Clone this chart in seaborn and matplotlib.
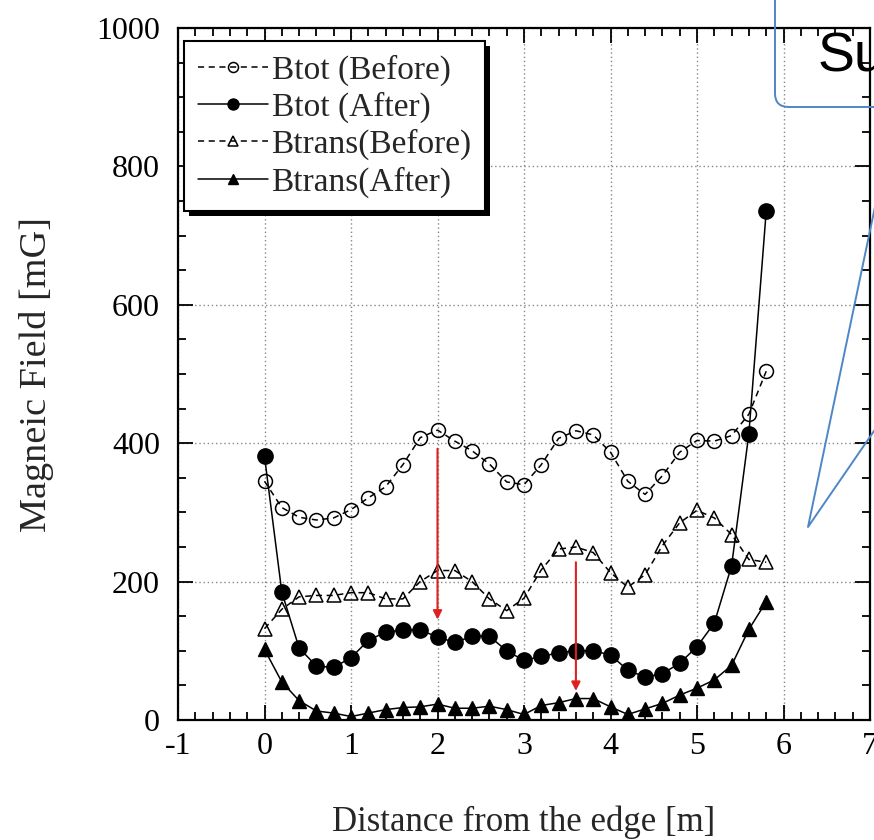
import numpy as np
import pandas as pd
import matplotlib
matplotlib.use("Agg")
import matplotlib.pyplot as plt
import seaborn as sns
from matplotlib.ticker import MultipleLocator
from matplotlib.patches import FancyBboxPatch, Rectangle
from matplotlib.lines import Line2D

# ---------------- data ----------------
distance = [0.0, 0.2, 0.4, 0.6, 0.8, 1.0, 1.2, 1.4, 1.6, 1.8,
            2.0, 2.2, 2.4, 2.6, 2.8, 3.0, 3.2, 3.4, 3.6, 3.8,
            4.0, 4.2, 4.4, 4.6, 4.8, 5.0, 5.2, 5.4, 5.6, 5.8]

btot_before = [345, 307, 293, 289, 292, 304, 321, 337, 369, 408,
               419, 403, 389, 370, 344, 340, 369, 407, 418, 412,
               387, 345, 326, 353, 387, 404, 403, 411, 442, 504]

btot_after = [381, 185, 104, 78, 76, 90, 115, 127, 130, 130,
              120, 112, 121, 121, 100, 86, 92, 97, 100, 100,
              94, 72, 62, 67, 82, 106, 140, 223, 414, 735]

btrans_before = [132, 160, 178, 180, 180, 184, 184, 175, 175, 200,
                 216, 216, 200, 175, 158, 176, 217, 247, 250, 242,
                 213, 192, 210, 252, 285, 303, 292, 268, 232, 228]

btrans_after = [102, 55, 28, 13, 10, 5, 10, 15, 18, 19,
                23, 17, 17, 20, 15, 8, 21, 25, 31, 31,
                19, 8, 16, 24, 36, 46, 58, 79, 131, 171]

series_labels = ["Btot (Before)", "Btot (After)", "Btrans(Before)", "Btrans(After)"]

x_ticks = [-1, 0, 1, 2, 3, 4, 5, 6, 7]
y_ticks = [0, 200, 400, 600, 800, 1000]

# red annotation arrows (x, y_start, y_end)
arrow_x = [2.0, 3.6]
arrow_start = [392, 228]
arrow_end = [145, 42]

x_label = "Distance from the edge [m]"
y_label = "Magneic Field [mG]"
callout_text = "Su"

# ---------------- style ----------------
sns.set_style("ticks")
plt.rcParams["font.family"] = ["Liberation Serif", "DejaVu Serif"]
plt.rcParams["axes.unicode_minus"] = False

W, H = 874, 840
fig = plt.figure(figsize=(W / 100, H / 100), dpi=100)
ax = fig.add_axes([178 / W, 1 - 720 / H, (870 - 178) / W, (720 - 28) / H])

df = pd.DataFrame({
    "distance": distance,
    series_labels[0]: btot_before,
    series_labels[1]: btot_after,
    series_labels[2]: btrans_before,
    series_labels[3]: btrans_after,
})

styles = {
    series_labels[0]: dict(marker="o", linestyle=(0, (4, 3)), mfc="none", ms=10, mew=1.1),
    series_labels[1]: dict(marker="o", linestyle="-", mfc="black", ms=11, mew=1.0),
    series_labels[2]: dict(marker="^", linestyle=(0, (4, 3)), mfc="none", ms=10, mew=1.1),
    series_labels[3]: dict(marker="^", linestyle="-", mfc="black", ms=10, mew=1.0),
}

for lab in series_labels:
    st = styles[lab]
    sns.lineplot(data=df, x="distance", y=lab, ax=ax, color="black",
                 linewidth=1.1, label=lab, mec="black", zorder=3, **st)

ax.set_xlim(-1, 7)
ax.set_ylim(0, 1000)
ax.set_xticks(x_ticks)
ax.set_yticks(y_ticks)
ax.xaxis.set_minor_locator(MultipleLocator(0.2))
ax.yaxis.set_minor_locator(MultipleLocator(50))
ax.tick_params(which="both", direction="in", top=True, right=True,
               width=1.3, colors="black", labelsize=23)
ax.tick_params(which="major", length=11)
ax.tick_params(which="minor", length=6)
ax.tick_params(axis="y", pad=13)
ax.tick_params(axis="x", pad=9)
ax.grid(True, which="major", linestyle=(0, (1, 2)), color="#888888", linewidth=1.0)
ax.set_axisbelow(True)
for sp in ax.spines.values():
    sp.set_linewidth(1.6)
    sp.set_color("black")

ax.set_xlabel(x_label, fontsize=25, labelpad=32)
ax.set_ylabel(y_label, fontsize=27.5, labelpad=30)

# red arrows
for xa, ys, ye in zip(arrow_x, arrow_start, arrow_end):
    ax.annotate("", xy=(xa, ye), xytext=(xa, ys),
                arrowprops=dict(arrowstyle="-|>", color="#e02020", lw=1.5,
                                mutation_scale=13, shrinkA=0, shrinkB=0),
                zorder=5)

# legend
leg = ax.legend(loc="upper left", bbox_to_anchor=(0.009, 0.981), borderaxespad=0,
                fontsize=24, frameon=True, fancybox=False, markerscale=0.72,
                handlelength=2.1, handletextpad=0.12, labelspacing=0.18,
                borderpad=0.4)
frame = leg.get_frame()
frame.set_edgecolor("black")
frame.set_linewidth(1.5)
frame.set_alpha(1.0)
leg.set_zorder(10)

# drop shadow behind the legend box (inside the axes, below the legend)
fig.canvas.draw()
bb = leg.get_frame().get_window_extent().transformed(ax.transAxes.inverted())
aw, ah = 870 - 178, 720 - 28
shadow = Rectangle((bb.x0 + 5 / aw, bb.y0 - 5 / ah), bb.width, bb.height,
                   transform=ax.transAxes, facecolor="black", edgecolor="none",
                   zorder=9, clip_on=False)
ax.add_patch(shadow)


# ---------------- callout (figure overlay) ----------------
def fx(px):
    return px / W


def fy(py):
    return 1 - py / H


blue = "#4f86c6"
box = FancyBboxPatch((fx(775), fy(107)), fx(200), fy(-60) - fy(107),
                     boxstyle="round,pad=0,rounding_size=0.016",
                     transform=fig.transFigure, facecolor="none",
                     edgecolor=blue, linewidth=1.4, zorder=20)
fig.add_artist(box)
pointer = Line2D([fx(885), fx(808), fx(885)], [fy(159), fy(527), fy(415)],
                 transform=fig.transFigure, color=blue, linewidth=1.4, zorder=20)
fig.add_artist(pointer)
fig.text(fx(818), fy(72), callout_text, fontsize=40, family=["Liberation Sans", "DejaVu Sans"],
         color="black", ha="left", va="baseline", zorder=21)

fig.savefig("out.png", dpi=100)
